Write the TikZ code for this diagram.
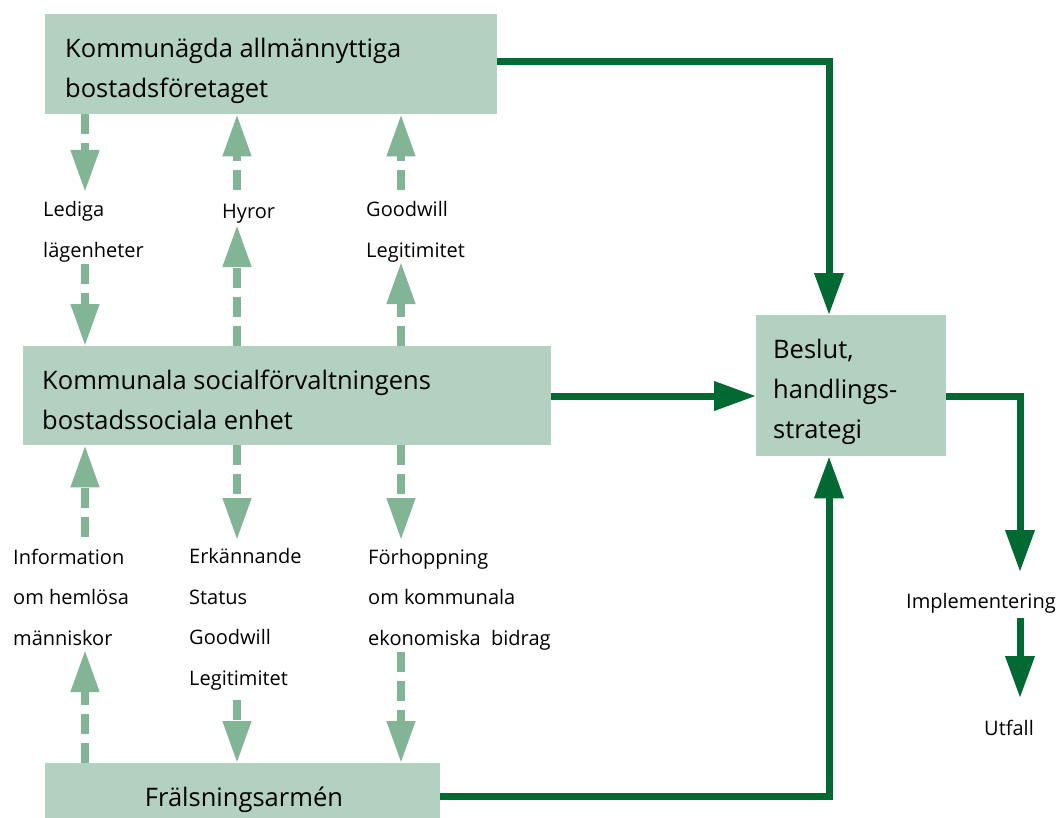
\documentclass[tikz,border=0pt]{standalone}
\usepackage{fontspec}
\setmainfont{Open Sans}
\usetikzlibrary{arrows.meta}
\definecolor{boxfill}{HTML}{B3D1C1}
\definecolor{lightarr}{HTML}{82B496}
\definecolor{darkarr}{HTML}{006A32}
\begin{document}
\begin{tikzpicture}[x=1pt,y=-1pt,
  box/.style={fill=boxfill, draw=none, inner sep=0pt, anchor=north west},
  bigtxt/.style={inner sep=0pt, anchor=base west, align=left, font=\fontsize{25.5}{40}\selectfont},
  lbl/.style={inner sep=0pt, anchor=base west, align=left, font=\fontsize{20}{40.5}\selectfont},
  lightflow/.style={draw=lightarr, line width=7.5pt, dash pattern=on 20pt off 9pt,
    -{Triangle[length=42pt,width=27pt,fill=lightarr]}},
  darkflow/.style={draw=darkarr, line width=7pt, line join=miter,
    -{Triangle[length=42pt,width=28pt,fill=darkarr]}}]
\useasboundingbox (0,0) rectangle (1059,818);
% boxes
\node[box, minimum width=452pt, minimum height=100pt] (top) at (45,14) {};
\node[box, minimum width=528pt, minimum height=99pt] (mid) at (23,346) {};
\node[box, minimum width=190pt, minimum height=141pt] (bes) at (756,315) {};
\node[box, minimum width=395pt, minimum height=66pt] (fra) at (45,763) {};
% box texts (anchor = baseline of last line)
\node[bigtxt] (toptext) at (65,98) {Kommunägda allmännyttiga\\bostadsföretaget};
\node[bigtxt] (midtext) at (42,429) {Kommunala socialförvaltningens\\bostadssociala enhet};
\node[bigtxt] (bestext) at (773,438) {Beslut,\\handlings-\\strategi};
\node[bigtxt, anchor=base] (fratext) at (244,806) {Frälsningsarmén};
% labels
\node[lbl] (lediga) at (43,257) {Lediga\\lägenheter};
\node[lbl] (hyror) at (222,219) {Hyror};
\node[lbl] (goodwill) at (366,257) {Goodwill\\Legitimitet};
\node[lbl] (info) at (13,645) {Information\\om hemlösa\\människor};
\node[lbl] (erk) at (189,685) {Erkännande\\Status\\Goodwill\\Legitimitet};
\node[lbl] (forh) at (368,645) {Förhoppning\\om kommunala\\ekonomiska\ \ bidrag};
\node[lbl] (impl) at (906,608) {Implementering};
\node[lbl] (utfall) at (984,735) {Utfall};
% free ends of light connectors
\coordinate (a1) at (85,192);
\coordinate (a2) at (85,264);
\coordinate (b1) at (237,190);
\coordinate (b2) at (237,225);
\coordinate (c1) at (401,190);
\coordinate (c2) at (401,262);
\coordinate (d1) at (85,537);
\coordinate (d2) at (85,650);
\coordinate (e1) at (237,540);
\coordinate (e2) at (237,700);
\coordinate (f1) at (401,540);
\coordinate (f2) at (401,652);
% light dashed connectors (upper)
\draw[lightflow] (a1 |- top.south) -- (a1);
\draw[lightflow] (a2) -- (a2 |- mid.north);
\draw[lightflow] (b1) -- (b1 |- top.south);
\draw[lightflow] (b2 |- mid.north) -- (b2);
\draw[lightflow] (c1) -- (c1 |- top.south);
\draw[lightflow] (c2 |- mid.north) -- (c2);
% light dashed connectors (lower)
\draw[lightflow] (d1) -- (d1 |- mid.south);
\draw[lightflow] (d2 |- fra.north) -- (d2);
\draw[lightflow] (e1 |- mid.south) -- (e1);
\draw[lightflow] (e2) -- (e2 |- fra.north);
\draw[lightflow] (f1 |- mid.south) -- (f1);
\draw[lightflow] (f2) -- (f2 |- fra.north);
% dark connectors
\coordinate (k1) at (829,62);
\coordinate (k2) at (829,796);
\coordinate (k3) at (1020,396);
\coordinate (k4) at (1020,572);
\coordinate (k5) at (1020,618);
\coordinate (k6) at (1020,698);
\draw[darkflow] (top.east |- k1) -- (k1) -- (k1 |- bes.north);
\draw[darkflow] (mid.east |- k3) -- (bes.west |- k3);
\draw[darkflow] (fra.east |- k2) -- (k2) -- (k2 |- bes.south);
\draw[darkflow] (bes.east |- k3) -- (k3) -- (k4);
\draw[darkflow] (k5) -- (k6);
\end{tikzpicture}
\end{document}
